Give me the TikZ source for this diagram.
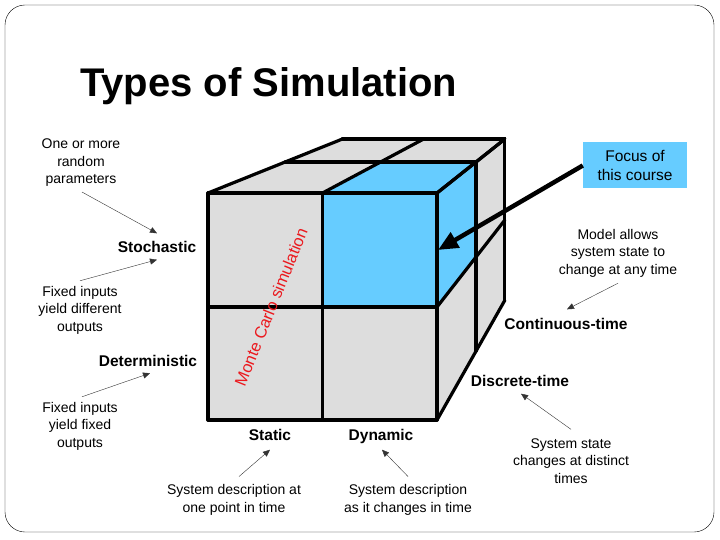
\documentclass[tikz,border=0pt]{standalone}
\usepackage{fontspec}
\setmainfont{Liberation Sans}
\usetikzlibrary{calc,arrows.meta}
\definecolor{cubegray}{RGB}{221,221,221}
\definecolor{focusblue}{RGB}{102,204,255}
\definecolor{mcred}{RGB}{235,25,30}
\tikzset{
  small/.style={align=center,inner sep=0pt,font=\fontsize{14}{17.5}\selectfont},
  kind/.style={inner sep=2pt,text height=11pt,text depth=3pt,font=\fontsize{15.5}{18}\selectfont\bfseries},
  note/.style={thin,black!80,-{Triangle[length=7pt,width=6pt]}},
  edge/.style={line width=3.2pt,line cap=round}
}
\begin{document}
\begin{tikzpicture}[x=1pt,y=-1pt]
        \fill[white] (0,0) rectangle (720,540);
        \useasboundingbox (0,0) rectangle (720,540);
        \draw[rounded corners=20pt] (5,5) rectangle (714,532);

        \node[anchor=base west,inner sep=0pt,font=\fontsize{40}{48}\selectfont\bfseries] (title) at (80,97) {Types of Simulation};

        \coordinate (vp) at (671,7);
        \foreach \x/\i in {208/0,322.5/1,437/2}
          \foreach \y/\j in {193/0,307/1,420/2} {
            \coordinate (f\i\j) at (\x,\y);
            \coordinate (m\i\j) at ($(vp)!0.833!(f\i\j)$);
            \coordinate (b\i\j) at ($(vp)!0.71!(f\i\j)$);
          }

        \fill[cubegray] (f00) rectangle (f22);
        \fill[focusblue] (f10) rectangle (f21);
        \fill[cubegray] (f00) -- (f20) -- (b20) -- (b00) -- cycle;
        \fill[focusblue] (f10) -- (f20) -- (m20) -- (m10) -- cycle;
        \fill[cubegray] (f20) -- (f22) -- (b22) -- (b20) -- cycle;
        \fill[focusblue] (f20) -- (f21) -- (m21) -- (m20) -- cycle;

        \foreach \i in {0,1,2} {
          \draw[edge] (f\i0) -- (f\i2);
          \draw[edge] (f0\i) -- (f2\i);
          \draw[edge] (f\i0) -- (b\i0);
          \draw[edge] (f2\i) -- (b2\i);
        }
        \draw[edge] (m00) -- (m20) -- (m22);
        \draw[edge] (b00) -- (b20) -- (b22);

        \node[rotate=68,inner sep=0pt,text=mcred,font=\fontsize{16.5}{18}\selectfont] (mc) at (271,307) {Monte Carlo simulation};

        \node[kind] (sto) at (157,248.5) {Stochastic};
        \node[kind] (det) at (148,362.5) {Deterministic};
        \node[kind] (static) at (270,436.5) {Static};
        \node[kind] (dyn) at (381,436.5) {Dynamic};
        \node[kind] (cont) at (566,325.5) {Continuous-time};
        \node[kind] (disc) at (520,382.5) {Discrete-time};

        \node[small] (one) at (81,163) {One or more\\random\\parameters};
        \node[small] (fixdiff) at (80,310) {Fixed inputs\\yield different\\outputs};
        \node[small] (fixfix) at (80,426) {Fixed inputs\\yield fixed\\outputs};
        \node[small] (sdat) at (234,500) {System description at\\one point in time};
        \node[small] (sdch) at (408,500) {System description\\as it changes in time};
        \node[small] (model) at (618,253) {Model allows\\system state to\\change at any time};
        \node[small] (dist) at (571,461) {System state\\changes at distinct\\times};

        \node[fill=focusblue,minimum width=104pt,minimum height=46pt,align=center,font=\fontsize{15.5}{19}\selectfont] (focus) at (635,165.5) {Focus of\\this course};
        \coordinate (hit) at (438,250);

        \draw[note] ([xshift=1pt,yshift=-5pt]one.south) -- ([yshift=6pt]sto.north);
        \draw[note] ([yshift=5pt]fixdiff.north) -- ([yshift=-2pt]sto.south);
        \draw[note] ([xshift=2pt,yshift=5pt]fixfix.north) -- ([xshift=2pt,yshift=-1.5pt]det.south);
        \draw[note] ([xshift=5pt,yshift=8pt]sdat.north) -- ([yshift=-4pt]static.south);
        \draw[note] ([yshift=8pt]sdch.north) -- ([xshift=1pt,yshift=-4pt]dyn.south);
        \draw[note] ([yshift=-6pt]model.south) -- ([xshift=1pt,yshift=7pt]cont.north);
        \draw[note] ([yshift=9pt]dist.north) -- ([xshift=1pt,yshift=-2pt]disc.south);
        \draw[line width=4.5pt,-{Triangle[length=20pt,width=17pt]}] (focus.west) -- (hit);
\end{tikzpicture}
\end{document}
